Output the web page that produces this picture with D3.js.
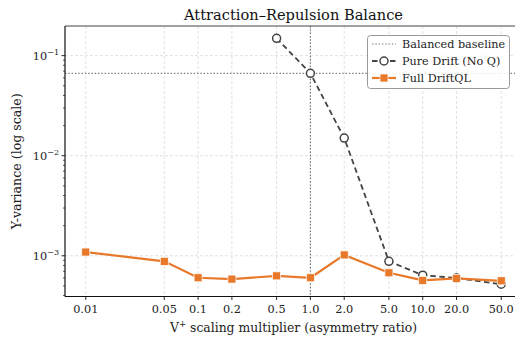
<!DOCTYPE html>
<html>
<head>
<meta charset="utf-8">
<script src="https://cdn.jsdelivr.net/npm/d3@7"></script>
<style>
  html, body { margin: 0; padding: 0; background: #fff; }
  svg { display: block; font-family: "DejaVu Serif", serif; }
</style>
</head>
<body>
<div id="chart"></div>
<script>
// ---- data ----
const xTicks = [0.01, 0.05, 0.1, 0.2, 0.5, 1.0, 2.0, 5.0, 10.0, 20.0, 50.0];
const xTickLabels = ["0.01", "0.05", "0.1", "0.2", "0.5", "1.0", "2.0", "5.0", "10.0", "20.0", "50.0"];
const pureX = [0.5, 1.0, 2.0, 5.0, 10.0, 20.0, 50.0];
const pureY = [0.149, 0.0665, 0.0150, 0.00088, 0.00064, 0.00060, 0.00052];
const fullX = [0.01, 0.05, 0.1, 0.2, 0.5, 1.0, 2.0, 5.0, 10.0, 20.0, 50.0];
const fullY = [0.00109, 0.00088, 0.000603, 0.000585, 0.00063, 0.000603, 0.00102, 0.000676, 0.000567, 0.000595, 0.000562];
const baselineY = 0.0665;
const baselineX = 1.0;
const yMajor = [0.1, 0.01, 0.001];
const yMajorExp = ["−1", "−2", "−3"];
const seriesNames = ["Balanced baseline", "Pure Drift (No Q)", "Full DriftQL"];
const title = "Attraction–Repulsion Balance";
const xLabelMain = "V";
const xLabelSup = "+";
const xLabelRest = " scaling multiplier (asymmetry ratio)";
const yLabel = "Y-variance (log scale)";

// ---- layout ----
const W = 515, H = 339;
const L = 65, R = 522, T = 26, B = 296.5;
const orange = "#e8782a";
const gray = "#444444";

const svg = d3.select("#chart").append("svg").attr("width", W).attr("height", H);

const xPad = (Math.log10(50) - Math.log10(0.01)) * 0.05;
const x = d3.scaleLog()
  .domain([Math.pow(10, -2 - xPad), Math.pow(10, Math.log10(50) + xPad)])
  .range([L, R]);
const yLo = Math.log10(0.00052), yHi = Math.log10(0.149);
const yPad = (yHi - yLo) * 0.05;
const y = d3.scaleLog()
  .domain([Math.pow(10, yLo - yPad), Math.pow(10, yHi + yPad)])
  .range([B, T]);

// clip
svg.append("clipPath").attr("id", "clip").append("rect")
  .attr("x", L).attr("y", T).attr("width", R - L).attr("height", B - T);

// grid
const grid = svg.append("g").attr("clip-path", "url(#clip)");
grid.selectAll("line.gx").data(xTicks).join("line")
  .attr("x1", d => x(d)).attr("x2", d => x(d)).attr("y1", T).attr("y2", B)
  .attr("stroke", "#d9d9d9").attr("stroke-width", 0.8).attr("stroke-dasharray", "3,2");
grid.selectAll("line.gy").data(yMajor).join("line")
  .attr("x1", L).attr("x2", R).attr("y1", d => y(d)).attr("y2", d => y(d))
  .attr("stroke", "#d9d9d9").attr("stroke-width", 0.8).attr("stroke-dasharray", "3,2");

// baseline lines
const plot = svg.append("g").attr("clip-path", "url(#clip)");
plot.append("line")
  .attr("x1", L).attr("x2", R).attr("y1", y(baselineY)).attr("y2", y(baselineY))
  .attr("stroke", "#808080").attr("stroke-width", 1.1).attr("stroke-dasharray", "1.5,1.8");
plot.append("line")
  .attr("x1", x(baselineX)).attr("x2", x(baselineX)).attr("y1", T).attr("y2", B)
  .attr("stroke", "#707070").attr("stroke-width", 1.1).attr("stroke-dasharray", "1.5,1.8");

// pure drift
const pure = pureX.map((v, i) => [v, pureY[i]]);
const full = fullX.map((v, i) => [v, fullY[i]]);
const line = d3.line().x(d => x(d[0])).y(d => y(d[1]));
plot.append("path").datum(pure).attr("d", line)
  .attr("fill", "none").attr("stroke", gray).attr("stroke-width", 1.8)
  .attr("stroke-dasharray", "5.5,3.5");
plot.selectAll("circle.p").data(pure).join("circle")
  .attr("cx", d => x(d[0])).attr("cy", d => y(d[1])).attr("r", 4)
  .attr("fill", "#fff").attr("stroke", gray).attr("stroke-width", 1.5);

// full driftql
plot.append("path").datum(full).attr("d", line)
  .attr("fill", "none").attr("stroke", orange).attr("stroke-width", 2.2);
plot.selectAll("rect.f").data(full).join("rect")
  .attr("x", d => x(d[0]) - 4).attr("y", d => y(d[1]) - 4)
  .attr("width", 8).attr("height", 8)
  .attr("fill", orange).attr("stroke", "#fff").attr("stroke-width", 0.7);

// spines
svg.append("line").attr("x1", L).attr("x2", R).attr("y1", T).attr("y2", T)
  .attr("stroke", "#444").attr("stroke-width", 1);
svg.append("line").attr("x1", L).attr("x2", L).attr("y1", T).attr("y2", B)
  .attr("stroke", "#111").attr("stroke-width", 1.2);
svg.append("line").attr("x1", L).attr("x2", R).attr("y1", B).attr("y2", B)
  .attr("stroke", "#111").attr("stroke-width", 1.2);

// x ticks
const xt = svg.append("g");
xt.selectAll("line").data(xTicks).join("line")
  .attr("x1", d => x(d)).attr("x2", d => x(d)).attr("y1", B).attr("y2", B + 3.5)
  .attr("stroke", "#111").attr("stroke-width", 0.9);
xt.selectAll("text").data(xTicks).join("text")
  .attr("x", d => x(d)).attr("y", B + 16.5)
  .attr("text-anchor", "middle").attr("font-size", 11.3).attr("fill", "#222")
  .text((d, i) => xTickLabels[i]);

// y ticks (major)
const yt = svg.append("g");
yt.selectAll("line.maj").data(yMajor).join("line")
  .attr("x1", L - 3.5).attr("x2", L).attr("y1", d => y(d)).attr("y2", d => y(d))
  .attr("stroke", "#111").attr("stroke-width", 0.9);
const [dLo, dHi] = y.domain();
const minors = [];
for (let e = -4; e <= -1; e++) {
  for (let m = 2; m <= 9; m++) {
    const v = m * Math.pow(10, e);
    if (v >= dLo && v <= dHi) minors.push(v);
  }
}
yt.selectAll("line.min").data(minors).join("line")
  .attr("x1", L - 2).attr("x2", L).attr("y1", d => y(d)).attr("y2", d => y(d))
  .attr("stroke", "#111").attr("stroke-width", 0.7);
const ylab = yt.selectAll("text").data(yMajor).join("text")
  .attr("x", L - 6).attr("y", d => y(d) + 4)
  .attr("text-anchor", "end").attr("font-size", 11.3).attr("fill", "#222");
ylab.append("tspan").text("10");
ylab.append("tspan").attr("dy", -5).attr("font-size", 8).text((d, i) => yMajorExp[i]);

// axis labels
const xl = svg.append("text").attr("x", (L + R) / 2).attr("y", 332)
  .attr("text-anchor", "middle").attr("font-size", 12.4).attr("fill", "#222");
xl.append("tspan").text(xLabelMain);
xl.append("tspan").attr("dy", -5).attr("font-size", 8.5).text(xLabelSup);
xl.append("tspan").attr("dy", 5).text(xLabelRest);

svg.append("text")
  .attr("transform", `translate(21,${(T + B) / 2}) rotate(-90)`)
  .attr("text-anchor", "middle").attr("font-size", 12.6).attr("fill", "#222")
  .text(yLabel);

// title
svg.append("text").attr("x", (L + R) / 2).attr("y", 19.5)
  .attr("text-anchor", "middle").attr("font-size", 14.6).attr("fill", "#111")
  .text(title);

// legend
const lg = svg.append("g");
lg.append("rect").attr("x", 367.5).attr("y", 35.5).attr("width", 142).attr("height", 53)
  .attr("rx", 3).attr("fill", "rgba(255,255,255,0.85)").attr("stroke", "#999").attr("stroke-width", 1);
const rowY = [44, 61, 78];
const hx0 = 372, hx1 = 396;
lg.append("line").attr("x1", hx0).attr("x2", hx1).attr("y1", rowY[0]).attr("y2", rowY[0])
  .attr("stroke", "#808080").attr("stroke-width", 1.1).attr("stroke-dasharray", "1.5,1.8");
lg.append("line").attr("x1", hx0).attr("x2", hx1).attr("y1", rowY[1]).attr("y2", rowY[1])
  .attr("stroke", gray).attr("stroke-width", 1.8).attr("stroke-dasharray", "5.5,3.5");
lg.append("circle").attr("cx", (hx0 + hx1) / 2).attr("cy", rowY[1]).attr("r", 4)
  .attr("fill", "#fff").attr("stroke", gray).attr("stroke-width", 1.5);
lg.append("line").attr("x1", hx0).attr("x2", hx1).attr("y1", rowY[2]).attr("y2", rowY[2])
  .attr("stroke", orange).attr("stroke-width", 2.2);
lg.append("rect").attr("x", (hx0 + hx1) / 2 - 4).attr("y", rowY[2] - 4).attr("width", 8).attr("height", 8)
  .attr("fill", orange).attr("stroke", "#fff").attr("stroke-width", 0.7);
lg.selectAll("text").data(seriesNames).join("text")
  .attr("x", 402).attr("y", (d, i) => rowY[i] + 4)
  .attr("font-size", 11.2).attr("fill", "#222").text(d => d);
</script>
</body>
</html>
